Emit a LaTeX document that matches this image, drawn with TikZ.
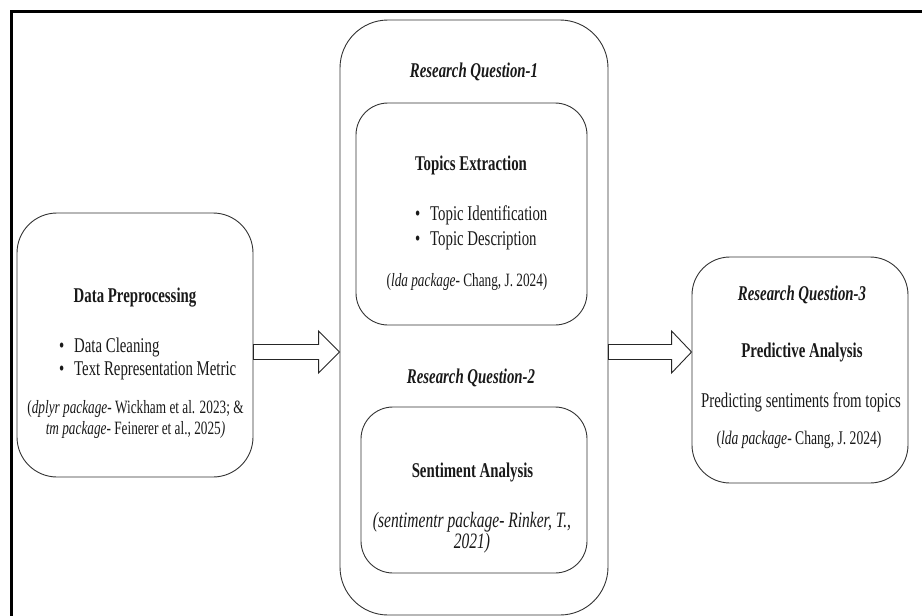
\documentclass[tikz,border=0pt]{standalone}
\usepackage{fontspec}
\setmainfont{Liberation Serif}[FakeStretch=0.706]
\usetikzlibrary{calc, positioning}

\newcommand{\pkgname}[1]{\textit{#1}}
\newcommand{\itembullet}{\makebox[15pt][l]{\textbullet}}

\begin{document}
\begin{tikzpicture}[x=1pt, y=-1pt,
  panel/.style={draw=black!80, line width=0.9pt, rounded corners=#1, inner sep=0pt},
  heading/.style={font=\fontsize{21}{23}\selectfont\bfseries, text=black!90, inner sep=0pt},
  question/.style={font=\fontsize{21}{23}\selectfont\bfseries\itshape, text=black!90, inner sep=0pt},
  items/.style={font=\fontsize{21}{#1}\selectfont, text=black!90, align=left, anchor=west, inner sep=0pt},
  citeline/.style={font=\fontsize{#1}{21}\selectfont, text=black!90, align=center, inner sep=0pt},
  hollow/.style={draw=black!85, line width=0.9pt, fill=white},
]
  \useasboundingbox (0,0) rectangle (922,616);

  % Frame (cut off at right and bottom)
  \draw[line width=3pt] (11,616) -- (11,11) -- (922,11);

  % Boxes
  \node[panel=40pt, minimum width=236pt, minimum height=264pt] (prep) at (135,345) {};
  \node[panel=48pt, minimum width=268pt, minimum height=595pt] (rq) at (474,317.5) {};
  \node[panel=32pt, minimum width=231pt, minimum height=222pt] (topics) at (471.5,214) {};
  \node[panel=32pt, minimum width=226pt, minimum height=166pt] (senti) at (474,490) {};
  \node[panel=38pt, minimum width=216pt, minimum height=226pt] (pred) at (800,370) {};

  % Data preprocessing
  \node[heading] (prepTitle) at (135,298) {Data Preprocessing};
  \node[items=23] (prepItems) at (59,358.5) {\itembullet Data Cleaning\\ \itembullet Text Representation Metric};
  \node[citeline=18.8] (prepCite) at (135.5,419) {(\pkgname{dplyr package}- Wickham et al. 2023; \&\\ \pkgname{tm package}- Feinerer et al., 2025\textit{)}};

  % Research question 1
  \node[question] (rqOne) at (474,72) {Research Question-1};
  \node[heading] (topicsTitle) at (471,165) {Topics Extraction};
  \node[items=25] (topicsItems) at (415,227.5) {\itembullet Topic Identification\\ \itembullet Topic Description};
  \node[citeline=18.8] (topicsCite) at (467,282) {(\pkgname{lda package}- Chang, J. 2024)};

  % Research question 2
  \node[question] (rqTwo) at (471,378) {Research Question-2};
  \node[heading] (sentiTitle) at (472.5,472) {Sentiment Analysis};
  \node[citeline=22, font=\fontsize{22}{21}\selectfont\itshape] (sentiCite) at (472,532.5) {(sentimentr package- Rinker, T.,\\ 2021)};

  % Research question 3
  \node[question] (rqThree) at (802,295) {Research Question-3};
  \node[heading] (predTitle) at (802,352) {Predictive Analysis};
  \node[font=\fontsize{21}{23}\selectfont, text=black!90, inner sep=0pt] (predText) at (801,402) {Predicting sentiments from topics};
  \node[citeline=19.3] (predCite) at (799,440) {(\pkgname{lda package}- Chang, J. 2024)};

  % Block arrows
  \coordinate (arrowy) at (0,352);
  \draw[hollow] ($(prep.east |- arrowy)+(0,-7.5)$) -- ($(rq.west |- arrowy)+(-21,-7.5)$)
    -- ++(0,-13.5) -- (rq.west |- arrowy) -- ($(rq.west |- arrowy)+(-21,21)$)
    -- ++(0,-13.5) -- ($(prep.east |- arrowy)+(0,7.5)$) -- cycle;
  \draw[hollow] ($(rq.east |- arrowy)+(0,-7.5)$) -- ($(pred.west |- arrowy)+(-20,-7.5)$)
    -- ++(0,-13.5) -- (pred.west |- arrowy) -- ($(pred.west |- arrowy)+(-20,21)$)
    -- ++(0,-13.5) -- ($(rq.east |- arrowy)+(0,7.5)$) -- cycle;
\end{tikzpicture}
\end{document}
